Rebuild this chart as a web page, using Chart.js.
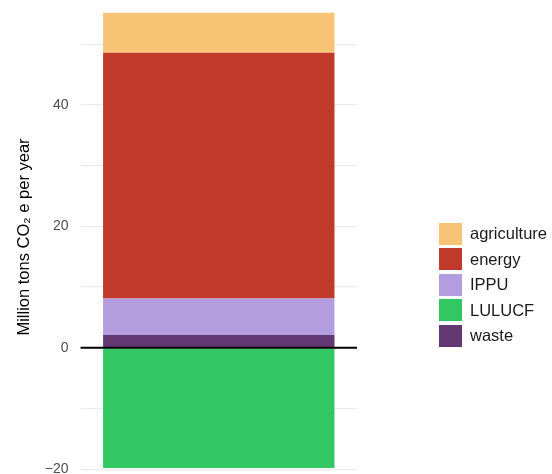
<!DOCTYPE html>
<html>
<head>
<meta charset="utf-8">
<script src="https://cdn.jsdelivr.net/npm/chart.js@4"></script>
<style>
  body { margin: 0; background: #fff; font-family: "Liberation Sans", Arial, sans-serif; }
  #wrap { position: relative; width: 552px; height: 474px; }
  #legend { position: absolute; left: 439px; top: 221px; }
  .item { display: flex; align-items: center; height: 25.5px; }
  .sw { width: 23px; height: 22px; margin-right: 8px; }
  .lb { font-size: 16.5px; color: #1a1a1a; }
</style>
</head>
<body>
<div id="wrap">
  <canvas id="emChart" width="552" height="474"></canvas>
  <div id="legend"></div>
</div>
<script>
// emisiones por sector (Mt CO2e)
const sectores = ["waste", "IPPU", "energy", "agriculture", "LULUCF"];
const valores = [2.1, 6.0, 40.5, 6.6, -19.8];
const colores = ["#633974", "#b39ddf", "#c0392b", "#f7c475", "#33c764"];
const legendOrder = ["agriculture", "energy", "IPPU", "LULUCF", "waste"];
const yTicks = [-20, 0, 20, 40];
const yGrid = [-20, -10, 0, 10, 20, 30, 40, 50];

// leyenda
const legend = document.getElementById("legend");
legendOrder.forEach(function (name) {
  const i = sectores.indexOf(name);
  const row = document.createElement("div");
  row.className = "item";
  row.innerHTML = '<div class="sw" style="background:' + colores[i] + '"></div><span class="lb">' + name + "</span>";
  legend.appendChild(row);
});

// linea del cero encima de las barras
const zeroLine = {
  id: "zeroLine",
  afterDatasetsDraw(chart) {
    const y = chart.scales.y.getPixelForValue(0);
    const ctx = chart.ctx;
    ctx.save();
    ctx.strokeStyle = "#000";
    ctx.lineWidth = 2;
    ctx.beginPath();
    ctx.moveTo(chart.chartArea.left, y);
    ctx.lineTo(chart.chartArea.right, y);
    ctx.stroke();
    ctx.restore();
  },
};

document.addEventListener("DOMContentLoaded", function () {
  const ctx = document.getElementById("emChart").getContext("2d");
  new Chart(ctx, {
    type: "bar",
    data: {
      labels: [""],
      datasets: sectores.map(function (s, i) {
        return {
          label: s,
          data: [valores[i]],
          backgroundColor: colores[i],
          borderWidth: 0,
          barPercentage: 0.837,
          categoryPercentage: 1,
        };
      }),
    },
    plugins: [zeroLine],
    options: {
      responsive: false,
      animation: false,
      layout: { padding: { left: 15, right: 195, top: 0, bottom: 0 } },
      plugins: { legend: { display: false }, tooltip: { enabled: false } },
      scales: {
        x: {
          stacked: true,
          display: false,
        },
        y: {
          stacked: true,
          min: -20.1,
          max: 56.6,
          border: { display: false },
          grid: {
            color: "#ebebeb",
            lineWidth: 1.2,
            drawTicks: true,
            tickLength: 12,
            tickColor: "rgba(0,0,0,0)",
          },
          afterBuildTicks(axis) {
            axis.ticks = yGrid.map(function (v) {
              return { value: v };
            });
          },
          ticks: {
            padding: 0,
            color: "#4d4d4d",
            font: { family: "Liberation Sans", size: 14, lineHeight: 0.6 },
            callback: function (v) {
              return yTicks.includes(v) ? (v < 0 ? "\u2212" + Math.abs(v) : v) : "";
            },
          },
          title: {
            display: true,
            text: "Million tons CO\u2082 e per year",
            color: "#000",
            font: { family: "Liberation Sans", size: 16.5 },
            padding: { top: 0, bottom: 10 },
          },
        },
      },
    },
  });
});
</script>
</body>
</html>
